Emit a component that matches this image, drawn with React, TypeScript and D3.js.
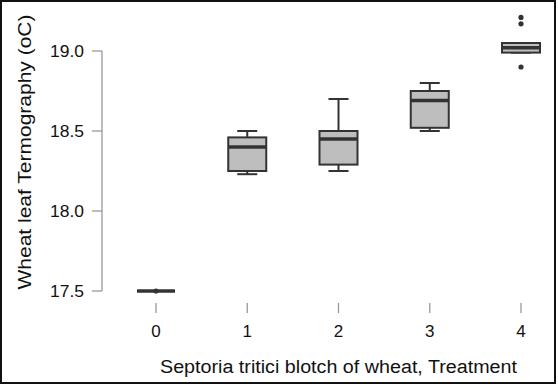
import * as d3 from 'd3';
import * as React from 'react';

// treatment groups
const treatments = [0, 1, 2, 3, 4];
// five-number summaries
const whiskerLow = [17.5, 18.23, 18.25, 18.5, 18.99];
const quartile1 = [17.5, 18.25, 18.29, 18.52, 18.99];
const medians = [17.5, 18.4, 18.45, 18.69, 19.02];
const quartile3 = [17.5, 18.46, 18.5, 18.75, 19.05];
const whiskerHigh = [17.5, 18.5, 18.7, 18.8, 19.05];
// outlying points: [treatment, value]
const outliers: [number, number][] = [[0, 17.5], [4, 19.21], [4, 19.17], [4, 18.9]];
const yTicks = [17.5, 18.0, 18.5, 19.0];

const W = 558;
const H = 385;
const font = '"Liberation Sans", Arial, sans-serif';
const ink = '#333333';

export default function App() {
    const x = d3.scaleLinear().domain([0, 4]).range([156, 521]);
    const y = d3.scaleLinear().domain([17.5, 19.0]).range([291, 51]);
    const halfBox = 19;
    const halfCap = 10;
    const axisX = 102;

    return (
        <div style={{ position: 'fixed', left: 0, top: 0 }}>
            <svg width={W} height={H} style={{ display: 'block', background: '#fff' }}>
                <rect x={1} y={1} width={W - 4} height={H - 3} fill="none" stroke="#111" strokeWidth={2} />

                {/* y axis */}
                <line x1={axisX} x2={axisX} y1={y(17.5)} y2={y(19.0)} stroke="#999" strokeWidth={1.3} />
                {yTicks.map(t => (
                    <g key={t}>
                        <line x1={axisX - 10} x2={axisX} y1={y(t)} y2={y(t)} stroke="#999" strokeWidth={1.3} />
                        <text x={84} y={y(t)} dy="0.36em" textAnchor="end" fontFamily={font} fontSize={17}
                            textLength={34} lengthAdjust="spacingAndGlyphs" fill="#111">
                            {d3.format('.1f')(t)}
                        </text>
                    </g>
                ))}
                <text transform={`translate(31,${152}) rotate(-90)`} textAnchor="middle" fontFamily={font} fontSize={18}
                    textLength={275} lengthAdjust="spacingAndGlyphs" fill="#111">
                    Wheat leaf Termography (oC)
                </text>

                {/* x axis ticks */}
                {treatments.map(t => (
                    <g key={t}>
                        <line x1={x(t)} x2={x(t)} y1={303} y2={313} stroke="#999" strokeWidth={1.3} />
                        <text x={x(t)} y={337} textAnchor="middle" fontFamily={font} fontSize={17} fill="#111">
                            {t}
                        </text>
                    </g>
                ))}
                <text x={338.5} y={373} textAnchor="middle" fontFamily={font} fontSize={18}
                    textLength={357} lengthAdjust="spacingAndGlyphs" fill="#111">
                    Septoria tritici blotch of wheat, Treatment
                </text>

                {/* boxes */}
                {treatments.map((t, i) => {
                    const cx = x(t);
                    return (
                        <g key={t} stroke={ink}>
                            <line x1={cx} x2={cx} y1={y(whiskerHigh[i])} y2={y(quartile3[i])} strokeWidth={2} />
                            <line x1={cx} x2={cx} y1={y(quartile1[i])} y2={y(whiskerLow[i])} strokeWidth={2} />
                            <line x1={cx - halfCap} x2={cx + halfCap} y1={y(whiskerHigh[i])} y2={y(whiskerHigh[i])} strokeWidth={2} />
                            <line x1={cx - halfCap} x2={cx + halfCap} y1={y(whiskerLow[i])} y2={y(whiskerLow[i])} strokeWidth={2} />
                            <rect
                                x={cx - halfBox}
                                y={y(quartile3[i])}
                                width={halfBox * 2}
                                height={y(quartile1[i]) - y(quartile3[i])}
                                fill="#bebebe"
                                strokeWidth={2}
                            />
                            <line x1={cx - halfBox} x2={cx + halfBox} y1={y(medians[i])} y2={y(medians[i])} strokeWidth={3.5} />
                        </g>
                    );
                })}

                {outliers.map(([t, v], i) => (
                    <circle key={i} cx={x(t)} cy={y(v)} r={2.6} fill={ink} />
                ))}
            </svg>
        </div>
    );
}
